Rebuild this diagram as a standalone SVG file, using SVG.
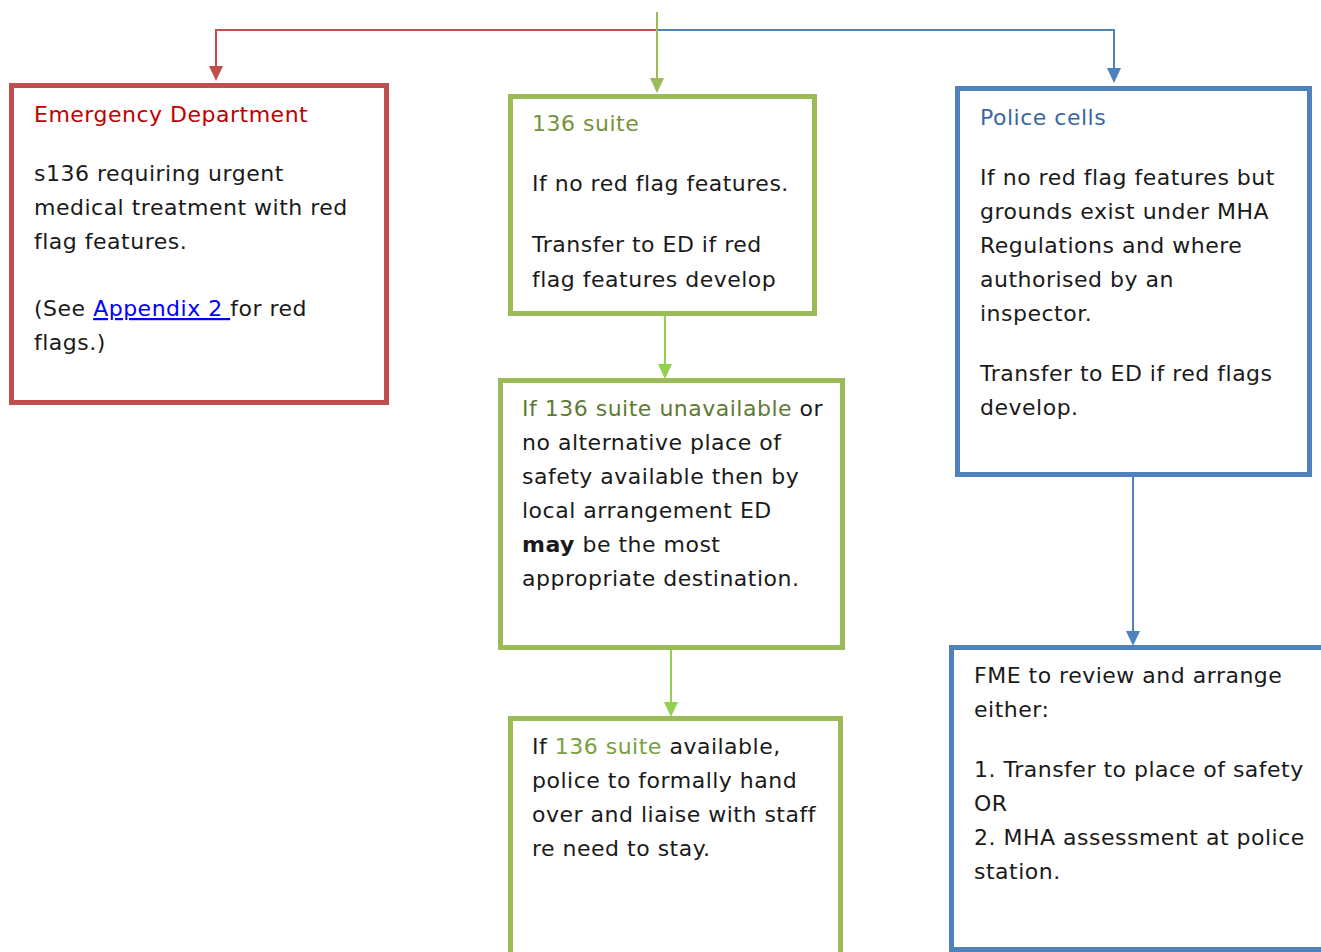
<svg xmlns="http://www.w3.org/2000/svg" width="1321" height="952" viewBox="0 0 1321 952">
<style>
.box{fill:#fff;stroke-width:5}
.red{stroke:#C0504D}
.grn{stroke:#9BBB59}
.blu{stroke:#4F81BD}
text{font-family:"DejaVu Sans","Liberation Sans",sans-serif;font-size:22px;letter-spacing:0.5px;fill:#1a1a1a}
.conn{fill:none;stroke-width:2}
</style>
<rect width="1321" height="952" fill="#fff"/>
<g id="connectors">
<polyline class="conn" stroke="#C0504D" points="657,30 216,30 216,68"/>
<path d="M209,66 L223,66 L216,81 Z" fill="#C0504D"/>
<polyline class="conn" stroke="#4F81BD" points="657,30 1114,30 1114,70"/>
<path d="M1107,68 L1121,68 L1114,83 Z" fill="#4F81BD"/>
<line class="conn" stroke="#9BBB59" x1="657" y1="12" x2="657" y2="80"/>
<path d="M650,78 L664,78 L657,93 Z" fill="#9BBB59"/>
<line class="conn" stroke="#92D050" x1="665" y1="316" x2="665" y2="366"/>
<path d="M658,364 L672,364 L665,379 Z" fill="#92D050"/>
<line class="conn" stroke="#92D050" x1="671" y1="650" x2="671" y2="704"/>
<path d="M664,702 L678,702 L671,717 Z" fill="#92D050"/>
<line class="conn" stroke="#4F81BD" x1="1133" y1="477" x2="1133" y2="633"/>
<path d="M1126,631 L1140,631 L1133,646 Z" fill="#4F81BD"/>
</g>
<g id="ed">
<rect class="box red" x="11.5" y="85.5" width="375" height="317"/>
<text x="34" y="122" style="fill:#C00000">Emergency Department</text>
<text x="34" y="181">s136 requiring urgent</text>
<text x="34" y="215">medical treatment with red</text>
<text x="34" y="249">flag features.</text>
<text x="34" y="316">(See <tspan style="fill:#0000FF" text-decoration="underline">Appendix 2 </tspan>for red</text>
<text x="34" y="350">flags.)</text>
</g>
<g id="suite">
<rect class="box grn" x="510.5" y="96.5" width="304" height="217"/>
<text x="532" y="131" style="fill:#76923C">136 suite</text>
<text x="532" y="191">If no red flag features.</text>
<text x="532" y="252">Transfer to ED if red</text>
<text x="532" y="287">flag features develop</text>
</g>
<g id="unavailable">
<rect class="box grn" x="500.5" y="380.5" width="342" height="267"/>
<text x="522" y="416"><tspan style="fill:#5F7A36">If 136 suite unavailable</tspan> or</text>
<text x="522" y="450">no alternative place of</text>
<text x="522" y="484">safety available then by</text>
<text x="522" y="518">local arrangement ED</text>
<text x="522" y="552"><tspan font-weight="bold">may</tspan> be the most</text>
<text x="522" y="586">appropriate destination.</text>
</g>
<g id="available">
<rect class="box grn" x="510.5" y="718.5" width="330" height="300"/>
<text x="532" y="754">If <tspan style="fill:#77A040">136 suite</tspan> available,</text>
<text x="532" y="788">police to formally hand</text>
<text x="532" y="822">over and liaise with staff</text>
<text x="532" y="856">re need to stay.</text>
</g>
<g id="police">
<rect class="box blu" x="957.5" y="88.5" width="352" height="386"/>
<text x="980" y="125" style="fill:#3A67A3">Police cells</text>
<text x="980" y="185">If no red flag features but</text>
<text x="980" y="219">grounds exist under MHA</text>
<text x="980" y="253">Regulations and where</text>
<text x="980" y="287">authorised by an</text>
<text x="980" y="321">inspector.</text>
<text x="980" y="381">Transfer to ED if red flags</text>
<text x="980" y="415">develop.</text>
</g>
<g id="fme">
<rect class="box blu" x="951.5" y="647.5" width="400" height="302"/>
<text x="974" y="683">FME to review and arrange</text>
<text x="974" y="717">either:</text>
<text x="974" y="777">1. Transfer to place of safety</text>
<text x="974" y="811">OR</text>
<text x="974" y="845">2. MHA assessment at police</text>
<text x="974" y="879">station.</text>
</g>
</svg>
